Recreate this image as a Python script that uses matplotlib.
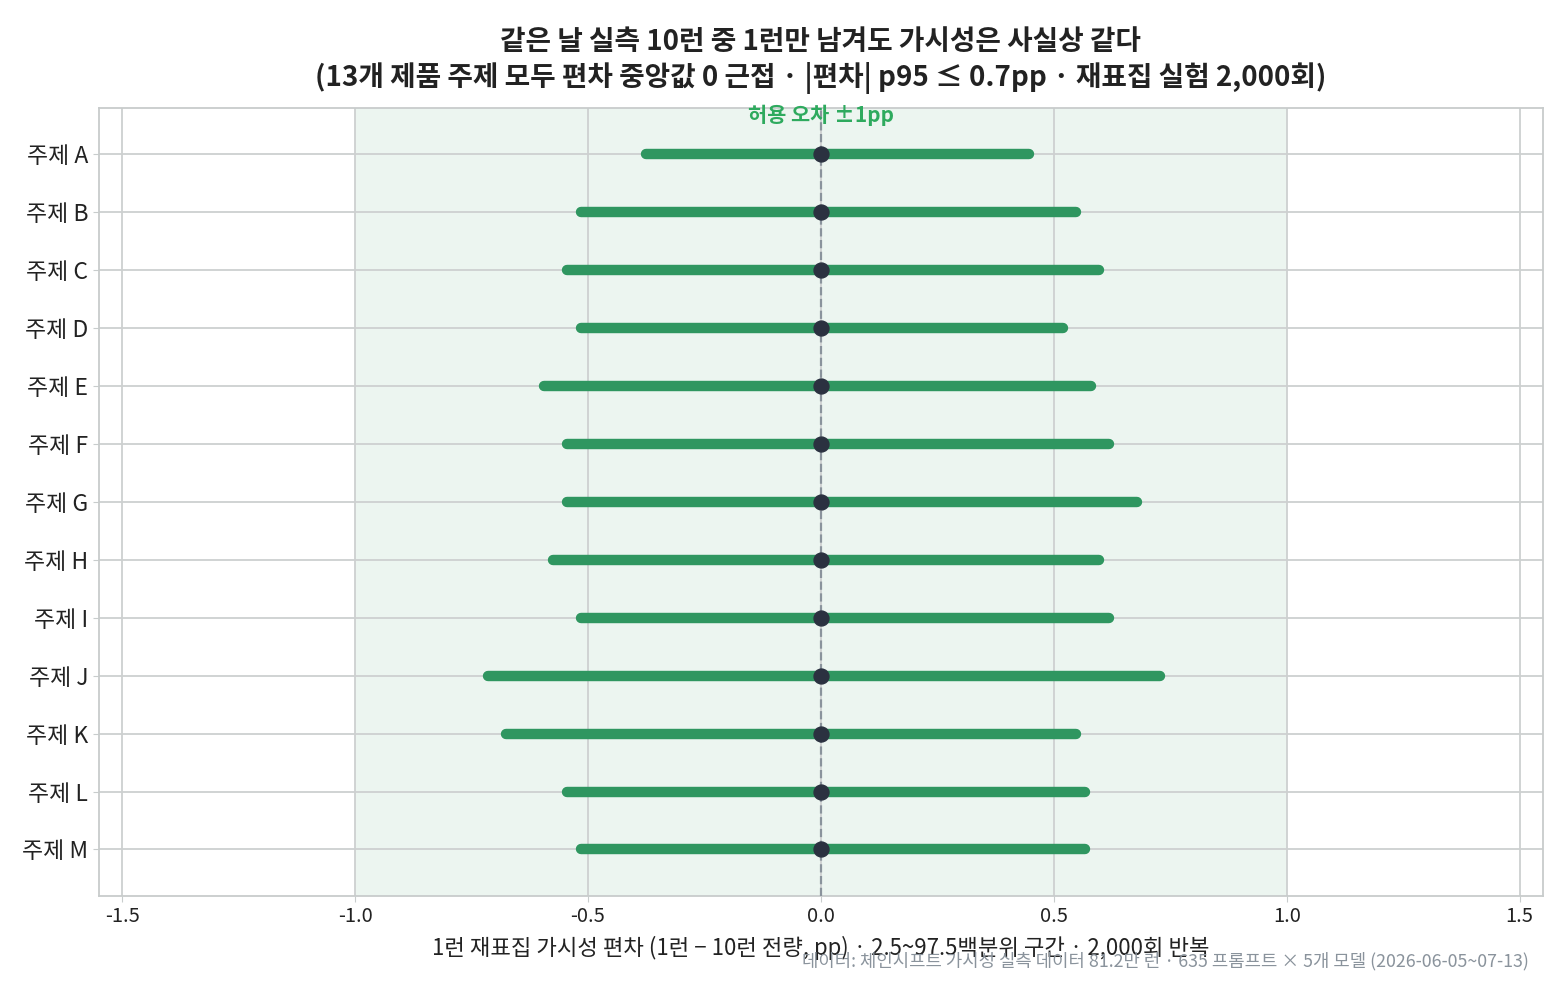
import matplotlib
matplotlib.use("Agg")
import matplotlib.pyplot as plt
import seaborn as sns

sns.set_style("whitegrid")
plt.rcParams['font.family'] = ['Noto Sans CJK KR', 'DejaVu Sans']
plt.rcParams['axes.unicode_minus'] = False

topics = ["주제 A", "주제 B", "주제 C", "주제 D", "주제 E", "주제 F", "주제 G",
          "주제 H", "주제 I", "주제 J", "주제 K", "주제 L", "주제 M"]
lo = [-0.375, -0.515, -0.545, -0.515, -0.594, -0.545, -0.545,
      -0.575, -0.515, -0.714, -0.676, -0.545, -0.515]
hi = [0.446, 0.547, 0.598, 0.519, 0.579, 0.618, 0.678,
      0.598, 0.618, 0.729, 0.547, 0.568, 0.568]
median = [0.0] * 13
tolerance = 1.0

green = "#2f9660"
dark = "#2b3140"

fig, ax = plt.subplots(figsize=(15.68, 9.92), dpi=100)
fig.subplots_adjust(left=0.063, right=0.984, top=0.891, bottom=0.097)

ax.axvspan(-tolerance, tolerance, color="#2f9660", alpha=0.09, zorder=0, lw=0)
ax.axvline(0, color="#8a939c", ls="--", lw=1.6, zorder=3)

ys = list(range(len(topics)))
for y, a, b in zip(ys, lo, hi):
    ax.plot([a, b], [y, y], color=green, lw=7.5, solid_capstyle="round", zorder=2)
ax.scatter(median, ys, s=115, color=dark, zorder=4)

ax.set_yticks(ys)
ax.set_yticklabels(topics, fontsize=16.5, color="#222222")
ax.set_ylim(len(topics) - 0.2, -0.8)
ax.set_xlim(-1.55, 1.55)
ax.set_xticks([-1.5, -1.0, -0.5, 0.0, 0.5, 1.0, 1.5])
ax.set_xticklabels(["-1.5", "-1.0", "-0.5", "0.0", "0.5", "1.0", "1.5"], fontsize=14.5, color="#222222")
ax.tick_params(axis="both", length=4, color="#c8cccc")
ax.tick_params(axis="x", bottom=True)
ax.tick_params(axis="y", left=True)

ax.grid(True, color="#cdd0d0", lw=1.3)
for s in ax.spines.values():
    s.set_color("#c8cccc")
    s.set_linewidth(1.3)

ax.text(0, -0.68, "허용 오차 ±1pp", color="#2eaa5e", fontsize=15, fontweight="bold",
        ha="center", va="center", zorder=5)

ax.set_xlabel("1런 재표집 가시성 편차 (1런 − 10런 전량, pp) · 2.5~97.5백분위 구간 · 2,000회 반복",
              fontsize=16, color="#222222", labelpad=6)
ax.set_title("같은 날 실측 10런 중 1런만 남겨도 가시성은 사실상 같다\n"
             "(13개 제품 주제 모두 편차 중앙값 0 근접 · |편차| p95 ≤ 0.7pp · 재표집 실험 2,000회)",
             fontsize=20, fontweight="bold", color="#222222", linespacing=1.25, pad=16)

fig.text(0.975, 0.031, "데이터: 체인시프트 가시성 실측 데이터 81.2만 런 · 635 프롬프트 × 5개 모델 (2026-06-05~07-13)",
         fontsize=12.8, color="#8a939c", ha="right", va="center")

fig.savefig("out.png", dpi=100)
